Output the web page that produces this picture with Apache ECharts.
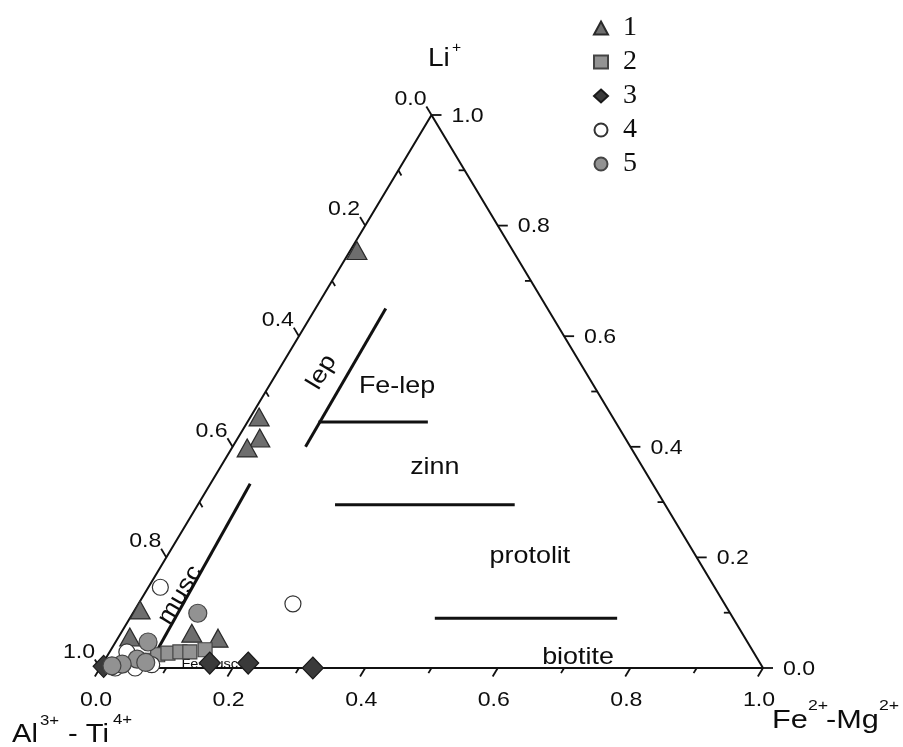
<!DOCTYPE html>
<html><head><meta charset="utf-8">
<script src="https://cdn.jsdelivr.net/npm/echarts@6/dist/echarts.min.js"></script>
<style>html,body{margin:0;padding:0;background:#fff}#c{width:903px;height:747px}</style>
</head><body><div id="c"></div>
<script>
// Ternary compositions as [Al3+-Ti4+, Fe2+-Mg2+, Li+] fractions
const group1 = [[0.235,0.010,0.755],[0.533,0.013,0.454],[0.551,0.033,0.416],[0.579,0.023,0.398],
  [0.887,0.008,0.105],[0.927,0.017,0.056],[0.830,0.107,0.063],[0.795,0.151,0.054]];
const group2 = [[0.921,0.065,0.014],[0.901,0.075,0.024],[0.884,0.089,0.027],[0.865,0.106,0.029],
  [0.850,0.121,0.029],[0.825,0.142,0.033]];
const group3 = [[0.993,0.004,0.003],[0.830,0.161,0.009],[0.772,0.219,0.009],[0.679,0.321,0.000]];
const group4 = [[0.651,0.233,0.116],[0.836,0.018,0.146],[0.945,0.026,0.029],[0.947,0.053,0.000],
  [0.977,0.023,0.000],[0.919,0.075,0.006]];
const group5 = [[0.803,0.098,0.099],[0.904,0.049,0.047],[0.936,0.048,0.016],[0.963,0.030,0.007],
  [0.980,0.016,0.004],[0.926,0.064,0.010]];

// Field boundaries (segments between two compositions)
const boundaries = [
  [[0.490,0.110,0.400],[0.244,0.106,0.650]],
  [[0.448,0.107,0.445],[0.283,0.272,0.445]],
  [[0.498,0.207,0.295],[0.227,0.478,0.295]],
  [[0.450,0.460,0.090],[0.175,0.735,0.090]],
  [[0.607,0.060,0.333],[0.920,0.071,0.009]]
];
// Field names and their positions (composition)
const fieldNames = ['lep','musc','Fe-lep','zinn','protolit','biotite','Fe-musc'];
const fieldPos = [[0.398,0.067,0.535],[0.813,0.055,0.132],[0.297,0.193,0.510],[0.314,0.324,0.362],
  [0.251,0.548,0.201],[0.269,0.711,0.020],[0.831,0.162,0.007]];
const fieldRot = [59,59,0,0,0,0,0];
const fieldSize = [24,24,24,24,24,24,13];

const majorTicks = [0,0.2,0.4,0.6,0.8,1.0];
const tickLabels = ['0.0','0.2','0.4','0.6','0.8','1.0'];
const minorTicks = [0.1,0.3,0.5,0.7,0.9];
const seriesNames = ['1','2','3','4','5'];

const V_AL=[1,0,0], V_FE=[0,1,0], V_LI=[0,0,1];
function tern(p){ const s=p[0]+p[1]+p[2]; const fe=p[1]/s, li=p[2]/s; return [fe+0.5*li, li]; }
function axisPoint(k,v){ // k:0 bottom (Fe), 1 left (Al), 2 right (Li)
  if(k===0) return [1-v, v, 0];
  if(k===1) return [v, 0, 1-v];
  return [0, 1-v, v];
}
const FONT='Liberation Sans, Arial, sans-serif';
const SX=1.12;
const INK='#0d0d0d';

const tickData=[];
[0,1,2].forEach(k=>{
  majorTicks.forEach((v,i)=>{ const c=tern(axisPoint(k,v)); tickData.push([c[0],c[1],k,1,i]); });
  minorTicks.forEach(v=>{ const c=tern(axisPoint(k,v)); tickData.push([c[0],c[1],k,0,-1]); });
});

function norm(a,b){ const dx=a[0]-b[0], dy=a[1]-b[1]; const l=Math.hypot(dx,dy); return [dx/l,dy/l]; }

function renderTick(params, api){
  const k=api.value(2), major=api.value(3), li=api.value(4);
  const p=api.coord([api.value(0),api.value(1)]);
  const A=api.coord(tern(V_AL)), F=api.coord(tern(V_FE)), L=api.coord(tern(V_LI));
  let d = k===0 ? norm(A,L) : (k===1 ? norm(L,F) : norm(F,A));
  let len = major ? 10 : 6;
  if(!major && k!==0) d=[-d[0],-d[1]];
  const children=[{type:'line', shape:{x1:p[0],y1:p[1],x2:p[0]+d[0]*len,y2:p[1]+d[1]*len},
    style:{stroke:'#111',lineWidth:1.8}}];
  if(major){
    let tx,ty,al;
    if(k===0){tx=p[0]-4;ty=p[1]+32;al='center';}
    else if(k===1){tx=p[0]-5;ty=p[1]-16;al='right';}
    else {tx=p[0]+20;ty=p[1]+1;al='left';}
    children.push({type:'text', x:tx, y:ty, scaleX:1.1,
      style:{text:tickLabels[li], fontSize:21, fontFamily:FONT, fill:INK, align:al, verticalAlign:'middle'}});
  }
  return {type:'group', children};
}

function renderSeg(params, api){
  const a=api.coord([api.value(0),api.value(1)]), b=api.coord([api.value(2),api.value(3)]);
  return {type:'line', shape:{x1:a[0],y1:a[1],x2:b[0],y2:b[1]}, style:{stroke:'#111',lineWidth:3}};
}
function renderField(params, api){
  const i=api.value(2);
  const p=api.coord([api.value(0),api.value(1)]);
  return {type:'text', x:p[0], y:p[1], scaleX:SX, rotation:fieldRot[i]*Math.PI/180,
    style:{text:fieldNames[i], fontSize:fieldSize[i], fontFamily:FONT, fill:INK, align:'center', verticalAlign:'middle'}};
}

const chart=echarts.init(document.getElementById('c'),null,{renderer:'canvas'});
const scat=(name,data,symbol,size,fill,stroke)=>({
  name, type:'scatter', data:data.map(tern), symbol, symbolSize:size, clip:false, z:5,
  itemStyle:{color:fill, borderColor:stroke, borderWidth:1.2, opacity:1}
});

function titleText(text,x,y,size,sx){
  return {type:'text', x, y, scaleX:sx||SX, style:{text, fontSize:size, fontFamily:FONT, fill:INK, align:'left', verticalAlign:'middle'}};
}

chart.setOption({
  animation:false,
  backgroundColor:'#fff',
  grid:{left:100,right:140,top:115,bottom:79},
  xAxis:{type:'value',min:0,max:1,show:false},
  yAxis:{type:'value',min:0,max:1,show:false},
  legend:{
    orient:'vertical', left:588, top:9, itemWidth:14, itemHeight:13, itemGap:6,
    data:[{name:'1',icon:'triangle'},{name:'2',icon:'rect'},{name:'3',icon:'diamond'},{name:'4',icon:'circle'},{name:'5',icon:'circle'}],
    textStyle:{fontFamily:'Liberation Serif, Times New Roman, serif', fontSize:28, lineHeight:27, color:INK, padding:[0,0,0,10]}
  },
  graphic:[
    titleText('Li',428,59,25), titleText('+',452,48,14),
    titleText('Al',12,735,26), titleText('3+',40,721,15), titleText('- Ti',68,735,26), titleText('4+',113,720,15),
    titleText('Fe',772,721,26,1.18), titleText('2+',808,706,15,1.18), titleText('-Mg',826,721,26,1.18), titleText('2+',879,706,15,1.18)
  ],
  series:[
    {type:'line', data:[tern(V_AL),tern(V_FE),tern(V_LI),tern(V_AL)], showSymbol:false, clip:false, silent:true,
      lineStyle:{color:'#111',width:2}, z:2, tooltip:{show:false}},
    {type:'custom', renderItem:renderTick, data:tickData, encode:{x:0,y:1}, z:2, silent:true},
    {type:'custom', renderItem:renderSeg, data:boundaries.map(s=>[...tern(s[0]),...tern(s[1])]), encode:{x:[0,2],y:[1,3]}, z:2, silent:true},
    {type:'custom', renderItem:renderField, data:fieldPos.map((p,i)=>[...tern(p),i]), encode:{x:0,y:1}, z:3, silent:true},
    scat(seriesNames[0],group1,'triangle',[20,18],'#6e6e6e','#2a2a2a'),
    scat(seriesNames[1],group2,'rect',14,'#939393','#444'),
    scat(seriesNames[2],group3,'diamond',[21,22],'#3a3a3a','#1a1a1a'),
    scat(seriesNames[3],group4,'circle',16,'#ffffff','#333'),
    scat(seriesNames[4],group5,'circle',18,'#929292','#444')
  ]
});
</script></body></html>
